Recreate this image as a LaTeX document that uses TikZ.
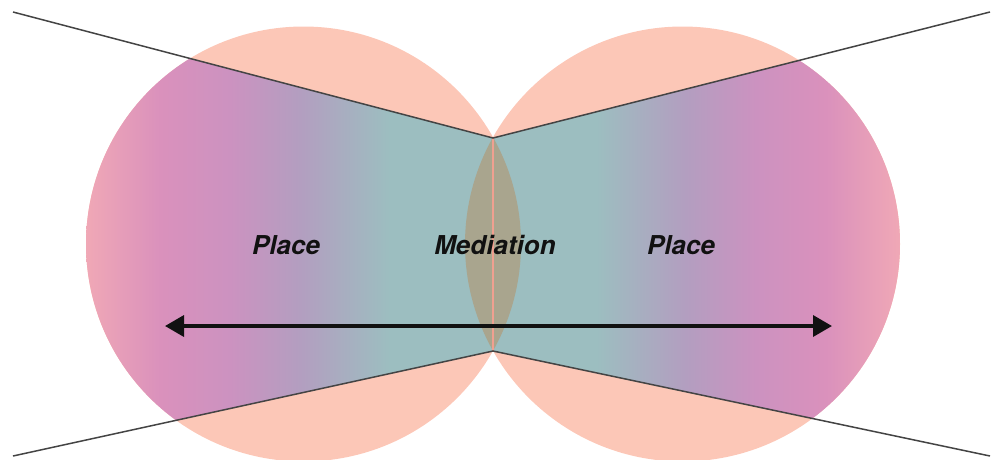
\documentclass[tikz,border=0pt]{standalone}
\usepackage{fontspec}
\setmainfont{TeX Gyre Heros}
\usepackage{xcolor}
\usepackage{tikz}
\usetikzlibrary{positioning, arrows.meta, calc}
\definecolor{peach}{HTML}{FCC7B7}
\definecolor{pinkedge}{HTML}{F0A8B6}
\definecolor{placepink}{HTML}{DA91BC}
\definecolor{plum}{HTML}{CC92C0}
\definecolor{mauve}{HTML}{B39EC0}
\definecolor{midteal}{HTML}{9CBEC0}
\definecolor{lensolive}{HTML}{A9A58E}
\definecolor{chordpink}{HTML}{F0A090}
\definecolor{ink}{HTML}{111111}
\definecolor{rule}{HTML}{444444}
\newcommand{\discr}{217.5pt}
\pgfdeclarehorizontalshading{placeshade}{100bp}{%
  color(0bp)=(pinkedge); color(29.65bp)=(pinkedge); color(33.35bp)=(placepink);
  color(36.85bp)=(plum); color(40.35bp)=(mauve); color(44.85bp)=(midteal);
  color(50bp)=(midteal); color(55.15bp)=(midteal); color(59.65bp)=(mauve);
  color(63.15bp)=(plum); color(66.65bp)=(placepink); color(70.35bp)=(pinkedge);
  color(100bp)=(pinkedge)}
\tikzset{
  disc/.style    = {fill=peach},
  lens/.style    = {fill=lensolive},
  chord/.style   = {draw=chordpink, line width=1.6pt},
  rayline/.style = {draw=rule, line width=1.5pt},
  span/.style    = {{Triangle[length=19pt,width=21pt]}-{Triangle[length=19pt,width=21pt]},
                    line width=3.5pt, draw=ink},
  tag/.style     = {font=\fontsize{26}{30}\selectfont\bfseries\itshape, text=ink, inner sep=0pt},
}

\begin{document}
\begin{tikzpicture}[x=1pt, y=-1pt]
  \useasboundingbox (0,0) rectangle (992,459);

  % ----- anchors -----
  \coordinate (lc) at (303.5,244);
  \coordinate (rc) at (682.5,244);
  \coordinate (tl) at (13,12);
  \coordinate (tm) at (493,138);
  \coordinate (tr) at (990,12);
  \coordinate (bl) at (13,456);
  \coordinate (bm) at (493,351);
  \coordinate (br) at (990,456);

  % ----- the two places -----
  \fill[disc] (lc) circle[radius=\discr];
  \fill[disc] (rc) circle[radius=\discr];

  % ----- shaded band between the rays -----
  \begin{scope}
    \clip (lc) circle[radius=\discr] (rc) circle[radius=\discr];
    \clip (tl) -- (tm) -- (tr) -- (br) -- (bm) -- (bl) -- cycle;
    \shade[shading=placeshade] (-7,0) rectangle (993,459);
    \begin{scope}
      \clip (lc) circle[radius=\discr];
      \fill[lens] (rc) circle[radius=\discr];
    \end{scope}
  \end{scope}
  \draw[chord] (tm) -- (bm);

  % ----- rays -----
  \draw[rayline] (tl) -- (tm) -- (tr);
  \draw[rayline] (bl) -- (bm) -- (br);

  % ----- labels and arrow -----
  \node[tag] (lplace) at (286,245) {Place};
  \node[tag] (mid) at (495,245) {Mediation};
  \node[tag] (rplace) at (681,245) {Place};

  \coordinate (al) at (165,326);
  \coordinate (ar) at (832,326);
  \draw[span] (al) -- (ar);

\end{tikzpicture}
\end{document}
